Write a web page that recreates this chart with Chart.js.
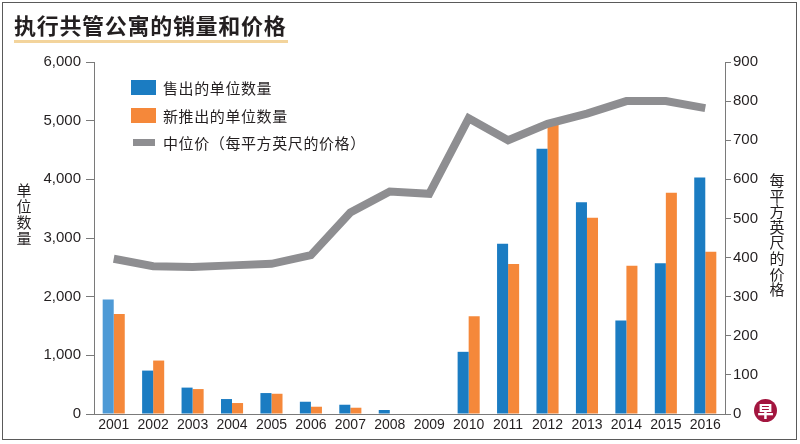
<!DOCTYPE html>
<html>
<head>
<meta charset="utf-8">
<script src="https://cdn.jsdelivr.net/npm/chart.js@4"></script>
<style>
  html, body { margin:0; padding:0; background:#fff; }
  #wrap { position:relative; width:800px; height:444px; overflow:hidden; background:#fff; }
  #frame { position:absolute; left:2px; top:2px; width:793px; height:436px; border:1.5px solid #5a5a5a; }
  #title { position:absolute; left:14px; top:9px; font-family:"Noto Sans CJK SC", sans-serif; font-weight:700; font-size:22px; letter-spacing:0.7px; color:#231f20; line-height:30px; white-space:nowrap; }
  #uline { position:absolute; left:14px; top:40px; width:274px; height:3px; background:#f3d49c; }
  .legend { position:absolute; left:131px; font-family:"Noto Sans CJK SC", sans-serif; font-size:15px; color:#231f20; line-height:20px; white-space:nowrap; letter-spacing:0.6px; }
  .sw { position:absolute; }
  .vt { position:absolute; font-family:"Noto Sans CJK SC", sans-serif; font-size:15px; color:#231f20; text-align:center; width:20px; }
  #logo { position:absolute; left:754px; top:399px; width:23px; height:23px; border-radius:50%; background:#a3163f; color:#fff; font-family:"Noto Sans CJK SC", sans-serif; font-weight:900; font-size:16px; line-height:23px; text-align:center; }
  canvas { position:absolute; left:0; top:0; }
</style>
</head>
<body>
<div id="wrap">
  <canvas id="c" width="800" height="444"></canvas>
  <div id="frame"></div>
  <div id="title">执行共管公寓的销量和价格</div>
  <div id="uline"></div>
  <div id="legend"></div>
  <div class="vt" id="ltitle" style="left:14px; top:182px; line-height:16px;"></div>
  <div class="vt" id="rtitle" style="left:767px; top:172px; line-height:15.6px;"></div>
  <div id="logo">早</div>
</div>
<script>
const years = ['2001','2002','2003','2004','2005','2006','2007','2008','2009','2010','2011','2012','2013','2014','2015','2016'];
const unitsSold     = [1950, 740, 450, 255, 357, 209, 158, 68, 0, 1060, 2900, 4520, 3610, 1595, 2570, 4030];
const unitsLaunched = [1705, 911, 425, 187, 345, 124, 107, 0, 0, 1667, 2556, 4950, 3345, 2529, 3770, 2767];
const medianPrice   = [397, 378, 376, 380, 384, 406, 515, 569, 563, 756, 700, 742, 768, 800, 800, 782];
const seriesNames = ['售出的单位数量', '新推出的单位数量', '中位价（每平方英尺的价格）'];
const leftAxisTitle = '单位数量';
const rightAxisTitle = '每平方英尺的价格';

const BLUE = '#1b7cc2', BLUE_LIGHT = '#4e9ad6', ORANGE = '#f5883a', GREY = '#8e8e91';

// legend (HTML)
const legendEl = document.getElementById('legend');
const legendRows = [
  {name: seriesNames[0], color: BLUE, top: 78, sw: {top: 2, h: 15, w: 25}},
  {name: seriesNames[1], color: ORANGE, top: 106, sw: {top: 2, h: 15, w: 25}},
  {name: seriesNames[2], color: GREY, top: 133, sw: {top: 6, h: 7, w: 22}}
];
legendRows.forEach(r => {
  const d = document.createElement('div');
  d.className = 'legend';
  d.style.top = r.top + 'px';
  d.innerHTML = '<span class="sw" style="left:' + (r.sw.w === 22 ? 2 : 0) + 'px;top:' + r.sw.top + 'px;width:' + r.sw.w + 'px;height:' + r.sw.h + 'px;background:' + r.color + '"></span>' +
    '<span style="position:absolute;left:32px;top:0">' + r.name + '</span>';
  legendEl.appendChild(d);
});
document.getElementById('ltitle').innerHTML = leftAxisTitle.split('').join('<br>');
document.getElementById('rtitle').innerHTML = rightAxisTitle.split('').join('<br>');

const soldColors = unitsSold.map((v, i) => i === 0 ? BLUE_LIGHT : BLUE);
const numFont = {family: "'Liberation Sans', Arial, sans-serif", size: 15};

new Chart(document.getElementById('c'), {
  data: {
    labels: years,
    datasets: [
      {type: 'line', data: medianPrice, yAxisID: 'y1', borderColor: GREY, borderWidth: 8, pointRadius: 0, tension: 0, borderJoinStyle: 'miter', borderCapStyle: 'butt', order: 0},
      {type: 'bar', data: unitsSold, yAxisID: 'y', backgroundColor: soldColors, categoryPercentage: 0.56, barPercentage: 1.0, order: 1},
      {type: 'bar', data: unitsLaunched, yAxisID: 'y', backgroundColor: ORANGE, categoryPercentage: 0.56, barPercentage: 1.0, order: 1}
    ]
  },
  options: {
    responsive: false,
    devicePixelRatio: 1,
    animation: false,
    layout: {padding: {top: 62, left: 0, right: 0, bottom: 0}},
    plugins: {legend: {display: false}, tooltip: {enabled: false}, title: {display: false}},
    scales: {
      x: {
        offset: true,
        grid: {display: false, drawTicks: false},
        border: {display: true, color: '#7a7a7a', width: 1},
        ticks: {color: '#231f20', font: {family: numFont.family, size: 14}, padding: 3, maxRotation: 0, autoSkip: false},
        afterFit: s => { s.height = 30; }
      },
      y: {
        position: 'left', min: 0, max: 6000,
        grid: {drawOnChartArea: false, drawTicks: true, tickLength: 8, color: '#7a7a7a'},
        border: {display: true, color: '#7a7a7a', width: 1},
        ticks: {stepSize: 1000, color: '#231f20', font: numFont, padding: 5, callback: v => v.toLocaleString('en-US')},
        afterFit: s => { s.width = 94; }
      },
      y1: {
        position: 'right', min: 0, max: 900,
        grid: {drawOnChartArea: false, drawTicks: true, tickLength: 6, color: '#7a7a7a'},
        border: {display: true, color: '#7a7a7a', width: 1},
        ticks: {stepSize: 100, color: '#231f20', font: numFont, padding: 2},
        afterFit: s => { s.width = 75; }
      }
    }
  }
});
</script>
</body>
</html>
